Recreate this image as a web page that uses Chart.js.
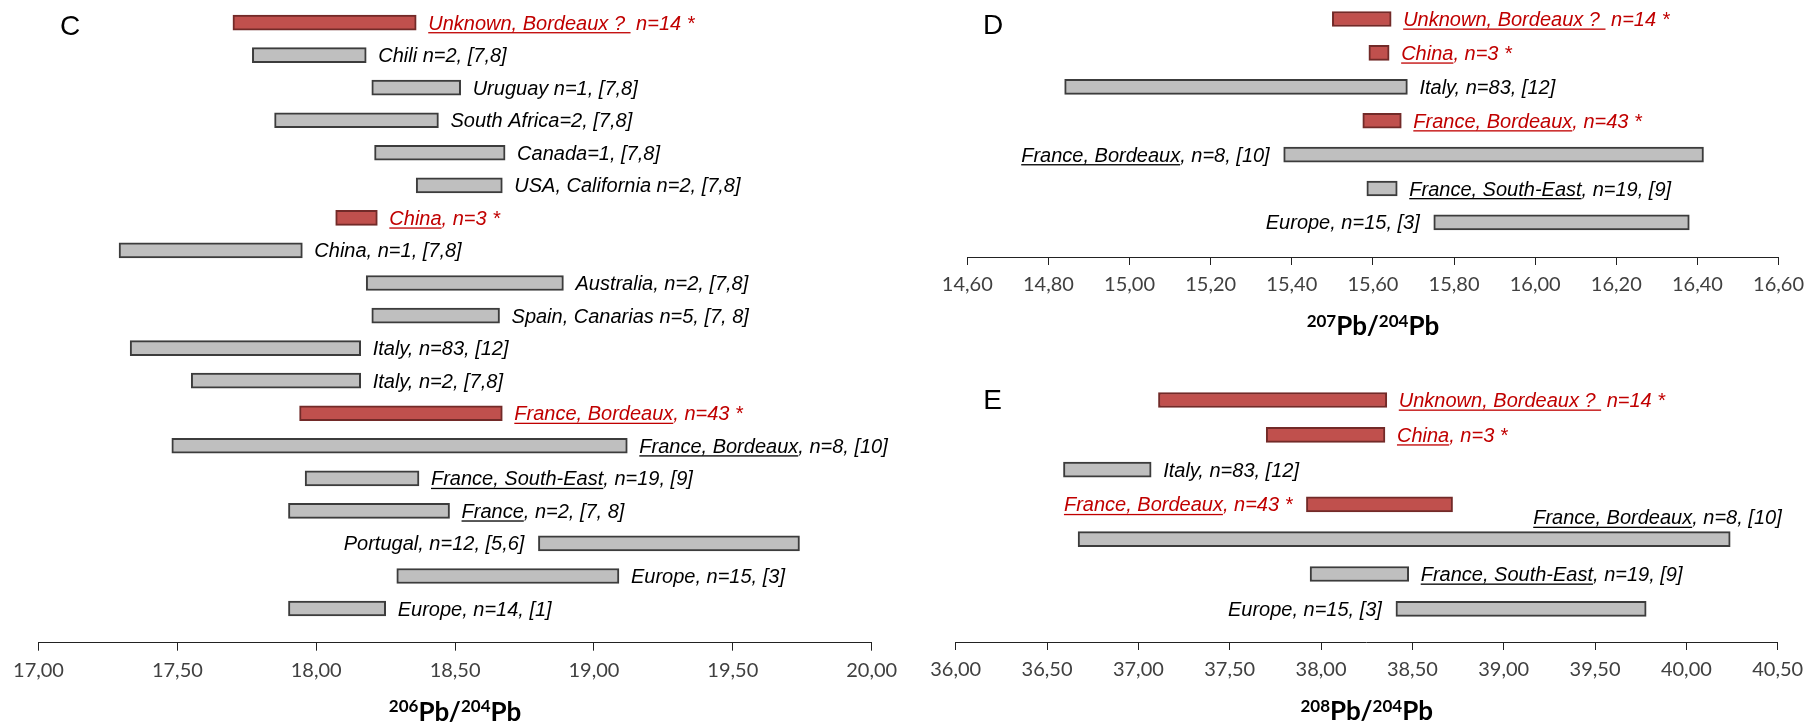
<!DOCTYPE html>
<html>
<head>
<meta charset="utf-8">
<script src="https://cdn.jsdelivr.net/npm/chart.js@4.4.1/dist/chart.umd.min.js"></script>
<style>
  html, body { margin: 0; padding: 0; background: #fff; }
  body { width: 1812px; height: 725px; position: relative; overflow: hidden; }
  .panel { position: absolute; }
</style>
</head>
<body>
<div class="panel" style="left:0;top:0;width:915px;height:725px"><canvas id="chartC"></canvas></div>
<div class="panel" style="left:915px;top:0;width:897px;height:345px"><canvas id="chartD"></canvas></div>
<div class="panel" style="left:915px;top:345px;width:897px;height:380px"><canvas id="chartE"></canvas></div>
<script>
// ---- Panel C : 206Pb/204Pb ranges ----
const labelsC = [
  'Unknown, Bordeaux ?  n=14 *', 'Chili n=2, [7,8]', 'Uruguay n=1, [7,8]',
  'South Africa=2, [7,8]', 'Canada=1, [7,8]', 'USA, California n=2, [7,8]',
  'China, n=3 *', 'China, n=1, [7,8]', 'Australia, n=2, [7,8]',
  'Spain, Canarias n=5, [7, 8]', 'Italy, n=83, [12]', 'Italy, n=2, [7,8]',
  'France, Bordeaux, n=43 *', 'France, Bordeaux, n=8, [10]', 'France, South-East, n=19, [9]',
  'France, n=2, [7, 8]', 'Portugal, n=12, [5,6]', 'Europe, n=15, [3]', 'Europe, n=14, [1]'
];
const minC = [17.70, 17.77, 18.20, 17.85, 18.21, 18.36, 18.07, 17.29, 18.18, 18.20,
              17.33, 17.55, 17.94, 17.48, 17.96, 17.90, 18.80, 18.29, 17.90];
const maxC = [18.36, 18.18, 18.52, 18.44, 18.68, 18.67, 18.22, 17.95, 18.89, 18.66,
              18.16, 18.16, 18.67, 19.12, 18.37, 18.48, 19.74, 19.09, 18.25];
const ownC = [1, 0, 0, 0, 0, 0, 1, 0, 0, 0, 0, 0, 1, 0, 0, 0, 0, 0, 0];
const underlineC = [20, 0, 0, 0, 0, 0, 5, 0, 0, 0, 0, 0, 16, 16, 18, 6, 0, 0, 0];
const sideC = ['right', 'right', 'right', 'right', 'right', 'right', 'right', 'right', 'right', 'right',
               'right', 'right', 'right', 'right', 'right', 'right', 'left', 'right', 'right'];
const ticksC = [17, 17.5, 18, 18.5, 19, 19.5, 20];
const titleC = ['206', '204'];

// ---- Panels D and E share the same groups ----
const labelsDE = [
  'Unknown, Bordeaux ?  n=14 *', 'China, n=3 *', 'Italy, n=83, [12]',
  'France, Bordeaux, n=43 *', 'France, Bordeaux, n=8, [10]',
  'France, South-East, n=19, [9]', 'Europe, n=15, [3]'
];
const ownDE = [1, 1, 0, 1, 0, 0, 0];
const underlineDE = [20, 5, 0, 16, 16, 18, 0];

// ---- Panel D : 207Pb/204Pb ----
const minD = [15.50, 15.59, 14.84, 15.575, 15.38, 15.585, 15.75];
const maxD = [15.645, 15.64, 15.685, 15.67, 16.415, 15.66, 16.38];
const sideD = ['right', 'right', 'right', 'right', 'left', 'right', 'left'];
const ticksD = [14.6, 14.8, 15.0, 15.2, 15.4, 15.6, 15.8, 16.0, 16.2, 16.4, 16.6];
const titleD = ['207', '204'];

// ---- Panel E : 208Pb/204Pb ----
const minE = [37.11, 37.70, 36.59, 37.92, 36.67, 37.94, 38.41];
const maxE = [38.36, 38.35, 37.07, 38.72, 40.24, 38.48, 39.78];
const sideE = ['right', 'right', 'right', 'left', 'above', 'right', 'left'];
const ticksE = [36, 36.5, 37, 37.5, 38, 38.5, 39, 39.5, 40, 40.5];
const titleE = ['208', '204'];

const RED_FILL = '#C0504D', RED_LINE = '#722A28', RED_TEXT = '#C00000';
const GREY_FILL = '#BFBFBF', GREY_LINE = '#3C3C3C', BLACK_TEXT = '#000000';
const fmt = v => Number(v).toFixed(2).replace('.', ',');

// text next to each bar, with partly underlined names
const barLabels = {
  id: 'barLabels',
  afterDatasetsDraw(chart, args, opts) {
    const ctx = chart.ctx;
    const bars = chart.getDatasetMeta(0).data;
    ctx.save();
    ctx.font = 'italic 20px "Liberation Sans", Arial, sans-serif';
    ctx.textBaseline = 'alphabetic';
    ctx.textAlign = 'left';
    bars.forEach((bar, i) => {
      const p = bar.getProps(['x', 'base', 'y'], true);
      const left = Math.min(p.x, p.base), right = Math.max(p.x, p.base);
      const text = opts.labels[i];
      const w = ctx.measureText(text).width;
      let tx = right + 12, ty = p.y + 7;
      if (opts.sides[i] === 'left') tx = left - 14 - w;
      if (opts.sides[i] === 'above') { tx = chart.chartArea.right + 4 - w; ty = p.y - 15; }
      ctx.fillStyle = opts.own[i] ? RED_TEXT : BLACK_TEXT;
      ctx.fillText(text, tx, ty);
      const n = opts.underline[i];
      if (n > 0) {
        const uw = ctx.measureText(text.slice(0, n)).width;
        ctx.fillRect(tx, ty + 2.5, uw, 1.3);
      }
    });
    ctx.restore();
  }
};

// axis title with superscript mass numbers + panel letter
const isoTitle = {
  id: 'isoTitle',
  afterDraw(chart, args, opts) {
    const ctx = chart.ctx, a = chart.chartArea;
    const big = 'bold 26px Lato, "Open Sans", sans-serif';
    const small = 'bold 17px Lato, "Open Sans", sans-serif';
    const parts = [[opts.iso[0], small, true], ['Pb/', big, false], [opts.iso[1], small, true], ['Pb', big, false]];
    ctx.save();
    ctx.fillStyle = '#000';
    ctx.textBaseline = 'alphabetic';
    ctx.textAlign = 'left';
    let total = 0;
    parts.forEach(pt => { ctx.font = pt[1]; total += ctx.measureText(pt[0]).width; });
    let x = (a.left + a.right) / 2 - total / 2;
    const base = a.bottom + 78;
    parts.forEach(pt => {
      ctx.font = pt[1];
      ctx.fillText(pt[0], x, pt[2] ? base - 8.5 : base);
      x += ctx.measureText(pt[0]).width;
    });
    ctx.font = '28px "Liberation Sans", Arial, sans-serif';
    ctx.fillText(opts.letter, opts.lx, opts.ly);
    ctx.restore();
  }
};

function makeChart(id, labels, mins, maxs, own, underline, sides, ticks, iso, geo) {
  const rows = mins.map((m, i) => ({ y: i, x: [m, maxs[i]] }));
  return new Chart(document.getElementById(id), {
    type: 'bar',
    data: {
      datasets: [{
        data: rows,
        backgroundColor: own.map(o => o ? RED_FILL : GREY_FILL),
        borderColor: own.map(o => o ? RED_LINE : GREY_LINE),
        borderWidth: 2,
        borderSkipped: false,
        barThickness: 15
      }]
    },
    options: {
      indexAxis: 'y',
      responsive: true,
      maintainAspectRatio: false,
      animation: false,
      layout: { padding: geo.pad },
      scales: {
        y: {
          type: 'linear', reverse: true, display: false, offset: false,
          min: -0.5, max: geo.ymax
        },
        x: {
          type: 'linear', min: ticks[0], max: ticks[ticks.length - 1],
          afterBuildTicks: s => { s.ticks = ticks.map(v => ({ value: v })); },
          afterFit: s => { s.height = geo.axisH; },
          ticks: {
            callback: v => fmt(v), autoSkip: false, maxRotation: 0,
            font: { family: 'Lato, "Open Sans", sans-serif', size: 20 },
            color: '#404040', padding: 8
          },
          grid: { drawOnChartArea: false, drawTicks: true, tickLength: 8, color: '#222', lineWidth: 1 },
          border: { display: true, color: '#222', width: 1 }
        }
      },
      plugins: {
        legend: { display: false },
        tooltip: { enabled: false },
        barLabels: { labels, own, underline, sides },
        isoTitle: { iso, letter: geo.letter, lx: geo.lx, ly: geo.ly }
      }
    },
    plugins: [barLabels, isoTitle]
  });
}

makeChart('chartC', labelsC, minC, maxC, ownC, underlineC, sideC, ticksC, titleC,
  { pad: { left: 38.5, right: 43.3, top: 6.3, bottom: 0 }, ymax: 19.05, axisH: 82.3, letter: 'C', lx: 60, ly: 35 });
makeChart('chartD', labelsDE, minD, maxD, ownDE, underlineDE, sideD, ticksD, titleD,
  { pad: { left: 52.3, right: 28, top: 2.05, bottom: 0 }, ymax: 7.02, axisH: 88, letter: 'D', lx: 68, ly: 33.5 });
makeChart('chartE', labelsDE, minE, maxE, ownDE, underlineDE, sideE, ticksE, titleE,
  { pad: { left: 40.7, right: 34.3, top: 37.6, bottom: 0 }, ymax: 6.954, axisH: 83, letter: 'E', lx: 68.3, ly: 63.8 });
</script>
</body>
</html>
